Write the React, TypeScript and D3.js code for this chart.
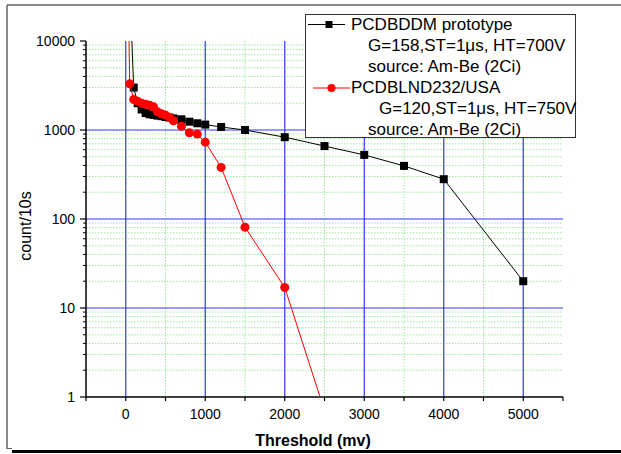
import React from "react";
import * as d3 from "d3";

const blackX = [50, 100, 150, 200, 250, 300, 350, 400, 450, 500, 550, 600, 700, 800, 900, 1000, 1200, 1500, 2000, 2500, 3000, 3500, 4000, 5000];
const blackY = [40000, 3000, 2000, 1700, 1550, 1500, 1480, 1450, 1430, 1400, 1380, 1350, 1320, 1240, 1190, 1150, 1080, 1000, 830, 660, 525, 395, 280, 20];
const redX = [30, 50, 100, 150, 200, 250, 300, 350, 400, 450, 500, 550, 600, 700, 800, 900, 1000, 1200, 1500, 2000, 2500];
const redY = [40000, 3300, 2200, 2100, 2000, 1950, 1900, 1820, 1600, 1520, 1470, 1390, 1270, 1100, 930, 900, 730, 380, 81, 17, 0.7];
const xTicks = [0, 1000, 2000, 3000, 4000, 5000];
const xMinor = [-500, 500, 1500, 2500, 3500, 4500, 5500];
const yTicks = [1, 10, 100, 1000, 10000];
const legend1 = ["PCDBDDM prototype", "G=158,ST=1\u03bcs, HT=700V", "source: Am-Be (2Ci)"];
const legend2 = ["PCDBLND232/USA", "G=120,ST=1\u03bcs, HT=750V", "source: Am-Be (2Ci)"];

const FONT = "Liberation Sans, Arial, Helvetica, sans-serif";

export default function App() {
  const L = 86, R = 563, T = 41, B = 397;
  const x = d3.scaleLinear().domain([-500, 5500]).range([L, R]);
  const y = d3.scaleLog().domain([1, 10000]).range([B, T]);

  const yMinor: number[] = [];
  for (let d = 1; d < 10000; d *= 10) for (let k = 2; k <= 9; k++) yMinor.push(d * k);

  const line = d3.line<[number, number]>().x((d) => x(d[0])).y((d) => y(d[1]));
  const bData = blackX.map((v, i) => [v, blackY[i]] as [number, number]);
  const rData = redX.map((v, i) => [v, redY[i]] as [number, number]);

  const blue = "#3535ff";
  const green = "#9be89b";
  const LF = 17;

  return (
    <svg width={621} height={454} style={{ position: "absolute", left: 0, top: 0, background: "#fff" }} fontFamily={FONT}>
      <defs>
        <clipPath id="plot">
          <rect x={L} y={T} width={R - L} height={B - T} />
        </clipPath>
      </defs>
      {/* frame */}
      <line x1={7} y1={5} x2={621} y2={5} stroke="#111" strokeWidth={1.2} />
      <line x1={7} y1={5} x2={7} y2={449} stroke="#666" strokeWidth={1.5} />
      <line x1={7} y1={448.5} x2={12} y2={448.5} stroke="#666" strokeWidth={1} />
      <rect x={12} y={450} width={609} height={3} fill="#000" />

      {/* minor grid */}
      {yMinor.map((v) => (
        <line key={"ym" + v} x1={L} x2={R} y1={y(v)} y2={y(v)} stroke={green} strokeWidth={1} strokeDasharray="1.5,1.5" />
      ))}
      {xMinor.filter((v) => v > -500 && v < 5500).map((v) => (
        <line key={"xm" + v} x1={x(v)} x2={x(v)} y1={T} y2={B} stroke={green} strokeWidth={1} strokeDasharray="1.5,1.5" />
      ))}
      {/* major grid */}
      {yTicks.filter((v) => v > 1 && v < 10000).map((v) => (
        <line key={"yg" + v} x1={L} x2={R} y1={y(v)} y2={y(v)} stroke={blue} strokeWidth={1.2} />
      ))}
      {xTicks.map((v) => (
        <line key={"xg" + v} x1={x(v)} x2={x(v)} y1={T} y2={B} stroke={blue} strokeWidth={1.2} />
      ))}

      {/* axes */}
      <line x1={L} x2={L} y1={T} y2={B} stroke="#000" strokeWidth={1.5} />
      <line x1={L} x2={R} y1={B} y2={B} stroke="#000" strokeWidth={1.5} />
      {yTicks.map((v) => (
        <g key={"yt" + v}>
          <line x1={L - 6} x2={L} y1={y(v)} y2={y(v)} stroke="#000" strokeWidth={1.2} />
          <text x={L - 11} y={y(v)} dy="0.35em" textAnchor="end" fontSize={14}>{v}</text>
        </g>
      ))}
      {yMinor.map((v) => (
        <line key={"ymt" + v} x1={L - 3} x2={L} y1={y(v)} y2={y(v)} stroke="#000" strokeWidth={1} />
      ))}
      {xTicks.map((v) => (
        <g key={"xt" + v}>
          <line x1={x(v)} x2={x(v)} y1={B} y2={B + 4} stroke="#000" strokeWidth={1.2} />
          <text x={x(v)} y={419} textAnchor="middle" fontSize={14}>{v}</text>
        </g>
      ))}
      {xMinor.map((v) => (
        <line key={"xmt" + v} x1={x(v)} x2={x(v)} y1={B} y2={B + 4} stroke="#000" strokeWidth={1.2} />
      ))}
      <text x={313} y={445.5} textAnchor="middle" fontSize={16} fontWeight="bold">Threshold (mv)</text>
      <text transform={`translate(31,226) rotate(-90)`} textAnchor="middle" fontSize={16}>count/10s</text>

      {/* data */}
      <g clipPath="url(#plot)">
        <path d={line(bData) || ""} fill="none" stroke="#000" strokeWidth={1} />
        {bData.map((d, i) => (
          <rect key={"b" + i} x={x(d[0]) - 4} y={y(d[1]) - 4} width={8} height={8} fill="#000" />
        ))}
        <path d={line(rData) || ""} fill="none" stroke="#ff0000" strokeWidth={1} />
        {rData.map((d, i) => (
          <circle key={"r" + i} cx={x(d[0])} cy={y(d[1])} r={4.5} fill="#ff0000" />
        ))}
      </g>

      {/* legend */}
      <rect x={305.5} y={14.5} width={270} height={123} fill="#fff" stroke="#333" strokeWidth={1} />
      <line x1={308} x2={345} y1={24.5} y2={24.5} stroke="#000" strokeWidth={1} />
      <rect x={329 - 3.5} y={24.5 - 3.5} width={7} height={7} fill="#000" />
      <text x={351} y={30} fontSize={LF}>{legend1[0]}</text>
      <text x={368} y={51} fontSize={LF}>{legend1[1]}</text>
      <text x={368} y={72} fontSize={LF}>{legend1[2]}</text>
      <line x1={313} x2={350} y1={88} y2={88} stroke="#ff0000" strokeWidth={1} />
      <circle cx={331.5} cy={88} r={4} fill="#ff0000" />
      <text x={351} y={93} fontSize={LF}>{legend2[0]}</text>
      <text x={379} y={114} fontSize={LF}>{legend2[1]}</text>
      <text x={368} y={135} fontSize={LF}>{legend2[2]}</text>
    </svg>
  );
}
